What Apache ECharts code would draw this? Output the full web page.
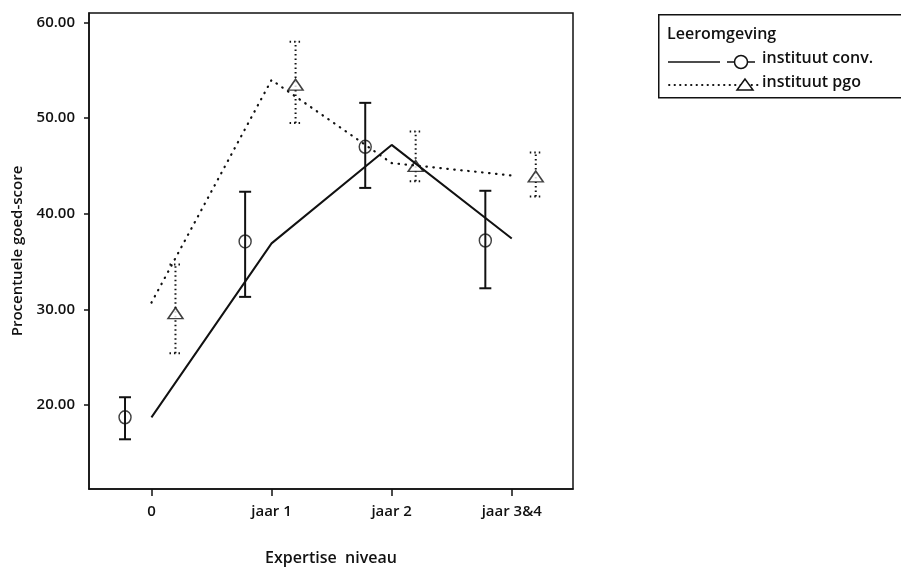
<!DOCTYPE html>
<html>
<head>
<meta charset="utf-8">
<title>Procentuele goed-score per expertise niveau</title>
<script src="https://cdn.jsdelivr.net/npm/echarts@6/dist/echarts.min.js"></script>
<style>
  html, body { margin: 0; padding: 0; background: #fff; }
  #chart { width: 901px; height: 568px; }
</style>
</head>
<body>
<div id="chart"></div>
<script>
// categorieën op de x-as
const categories = ['0', 'jaar 1', 'jaar 2', 'jaar 3&4']
const yTicks = [20, 30, 40, 50, 60]

// instituut conv. : gemiddelde + foutbalk (onder / boven)
const convMean = [18.7, 37.1, 47.0, 37.2]
const convLow = [16.4, 31.3, 42.7, 32.2]
const convHigh = [20.8, 42.3, 51.6, 42.4]
const convFit = [18.7, 36.9, 47.2, 37.4]

// instituut pgo
const pgoMean = [29.6, 53.5, 45.0, 43.9]
const pgoLow = [25.4, 49.5, 43.4, 41.8]
const pgoHigh = [34.7, 58.0, 48.6, 46.4]
const pgoFit = [30.7, 54.0, 45.3, 44.0]

// horizontale verschuiving van de markers t.o.v. de categorie
const convShift = -0.22
const pgoShift = 0.2

const font = 'Open Sans'
const black = '#111'
const txt = { fontFamily: font, fontSize: 15, fontWeight: 600, color: black }
const legendFont = '600 16px "Open Sans"'

const chart = echarts.init(document.getElementById('chart'))

// foutbalk tekenen: verticale lijn + twee kapjes
const errorBar = (dotted) => (params, api) => {
  const x = api.value(0)
  const lo = api.coord([x, api.value(1)])
  const hi = api.coord([x, api.value(2)])
  const half = 6
  const style = {
    stroke: black,
    lineWidth: 2,
    lineDash: dotted ? [1.5, 3] : null
  }
  return {
    type: 'group',
    children: [
      { type: 'line', shape: { x1: lo[0], y1: lo[1], x2: hi[0], y2: hi[1] }, style },
      { type: 'line', shape: { x1: hi[0] - half, y1: hi[1], x2: hi[0] + half, y2: hi[1] }, style },
      { type: 'line', shape: { x1: lo[0] - half, y1: lo[1], x2: lo[0] + half, y2: lo[1] }, style }
    ]
  }
}

const option = {
  animation: false,
  backgroundColor: '#fff',
  grid: {
    left: 89, right: 328, top: 13, bottom: 79,
    outerBoundsMode: 'none',
    show: true, borderColor: black, borderWidth: 1.5
  },
  xAxis: {
    type: 'value',
    min: -0.52,
    max: 3.51,
    name: 'Expertise  niveau',
    nameLocation: 'middle',
    nameGap: 61,
    nameTextStyle: { ...txt, fontSize: 16 },
    axisLine: { show: true, onZero: false, lineStyle: { color: black, width: 1.5 } },
    axisTick: { show: true, length: 7, customValues: [0, 1, 2, 3], lineStyle: { color: black, width: 1.5 } },
    axisLabel: {
      ...txt,
      customValues: [0, 1, 2, 3],
      margin: 15,
      formatter: (v) => categories[Math.round(v)]
    },
    splitLine: { show: false }
  },
  yAxis: {
    type: 'value',
    min: 11.2,
    max: 61,
    name: 'Procentuele goed-score',
    nameLocation: 'middle',
    nameGap: 62,
    nameTextStyle: txt,
    axisLine: { show: true, onZero: false, lineStyle: { color: black, width: 1.5 } },
    axisTick: { show: true, length: 5, customValues: yTicks, lineStyle: { color: black, width: 1.5 } },
    axisLabel: {
      ...txt,
      customValues: yTicks,
      margin: 14,
      formatter: (v) => v.toFixed(2)
    },
    splitLine: { show: false }
  },
  series: [
    {
      name: 'fit conv',
      type: 'line',
      showSymbol: false,
      lineStyle: { color: black, width: 2 },
      data: convFit.map((v, i) => [i, v])
    },
    {
      name: 'fit pgo',
      type: 'line',
      showSymbol: false,
      lineStyle: { color: black, width: 2.2, type: [0.5, 6.5], cap: 'round' },
      data: pgoFit.map((v, i) => [i, v])
    },
    {
      name: 'bars conv',
      type: 'custom',
      renderItem: errorBar(false),
      data: convLow.map((v, i) => [i + convShift, v, convHigh[i]])
    },
    {
      name: 'bars pgo',
      type: 'custom',
      renderItem: errorBar(true),
      data: pgoLow.map((v, i) => [i + pgoShift, v, pgoHigh[i]])
    },
    {
      name: 'instituut conv.',
      type: 'scatter',
      symbol: 'circle',
      symbolSize: [12, 13],
      itemStyle: { color: 'rgba(0,0,0,0)', borderColor: black, borderWidth: 1.5 },
      data: convMean.map((v, i) => [i + convShift, v])
    },
    {
      name: 'instituut pgo',
      type: 'scatter',
      symbol: 'triangle',
      symbolSize: [15, 11],
      itemStyle: { color: '#fff', borderColor: black, borderWidth: 1.5 },
      data: pgoMean.map((v, i) => [i + pgoShift, v])
    }
  ],
  // legenda-kader zoals in het origineel
  graphic: [
    {
      type: 'rect', left: 658, top: 14,
      shape: { width: 260, height: 83 },
      style: { fill: '#fff', stroke: black, lineWidth: 1.5 }
    },
    {
      type: 'text', left: 667, top: 26,
      style: { text: 'Leeromgeving', font: legendFont, fill: black }
    },
    { type: 'line', shape: { x1: 668, y1: 62, x2: 720, y2: 62 }, style: { stroke: black, lineWidth: 1.5 } },
    { type: 'line', shape: { x1: 727, y1: 62, x2: 755, y2: 62 }, style: { stroke: black, lineWidth: 1.5 } },
    { type: 'circle', shape: { cx: 741, cy: 62, r: 6.5 }, style: { fill: '#fff', stroke: black, lineWidth: 1.5 } },
    {
      type: 'text', left: 762, top: 50,
      style: { text: 'instituut conv.', font: legendFont, fill: black }
    },
    {
      type: 'line', shape: { x1: 669, y1: 85, x2: 759, y2: 85 },
      style: { stroke: black, lineWidth: 1.8, lineDash: [0.5, 5], lineCap: 'round' }
    },
    {
      type: 'polygon', shape: { points: [[745, 79], [737, 90], [753, 90]] },
      style: { fill: '#fff', stroke: black, lineWidth: 1.5 }
    },
    {
      type: 'text', left: 762, top: 74,
      style: { text: 'instituut pgo', font: legendFont, fill: black }
    }
  ]
}

chart.setOption(option)
</script>
</body>
</html>
